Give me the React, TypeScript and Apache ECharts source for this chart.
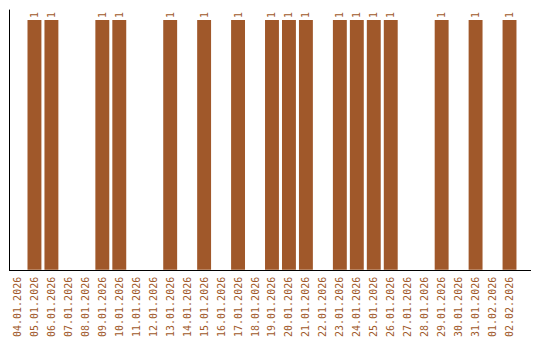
import React, { useEffect, useRef } from "react";
import * as echarts from "echarts";

const categories = [
  "04.01.2026", "05.01.2026", "06.01.2026", "07.01.2026", "08.01.2026",
  "09.01.2026", "10.01.2026", "11.01.2026", "12.01.2026", "13.01.2026",
  "14.01.2026", "15.01.2026", "16.01.2026", "17.01.2026", "18.01.2026",
  "19.01.2026", "20.01.2026", "21.01.2026", "22.01.2026", "23.01.2026",
  "24.01.2026", "25.01.2026", "26.01.2026", "27.01.2026", "28.01.2026",
  "29.01.2026", "30.01.2026", "31.01.2026", "01.02.2026", "02.02.2026",
];
const counts = [
  0, 1, 1, 0, 0,
  1, 1, 0, 0, 1,
  0, 1, 0, 1, 0,
  1, 1, 1, 0, 1,
  1, 1, 1, 0, 0,
  1, 0, 1, 0, 1,
];

const COLOR = "#a0582a";

export default function App() {
  const ref = useRef<HTMLDivElement>(null);
  useEffect(() => {
    if (!ref.current) return;
    const chart = echarts.init(ref.current, null, { renderer: "svg" });
    chart.setOption({
      animation: false,
      grid: { left: 9, right: 22, top: 10, bottom: 70, containLabel: false },
      xAxis: {
        type: "category",
        data: categories,
        axisLine: { show: false },
        axisTick: { show: false },
        axisLabel: {
          interval: 0,
          rotate: 90,
          color: COLOR,
          fontFamily: "DejaVu Sans Mono",
          fontSize: 10,
          margin: 7,
        },
      },
      yAxis: {
        type: "value",
        min: 0,
        max: 1.04,
        axisLine: { show: true, lineStyle: { color: "#000", width: 1 } },
        axisTick: { show: false },
        axisLabel: { show: false },
        splitLine: { show: false },
      },
      graphic: [
        {
          type: "line",
          shape: { x1: 9, y1: 270.5, x2: 531, y2: 270.5 },
          style: { stroke: "#000", lineWidth: 1 },
          z: 10,
        },
      ],
      series: [
        {
          type: "bar",
          data: counts,
          barCategoryGap: "18%",
          itemStyle: { color: COLOR },
          label: {
            show: true,
            position: "top",
            rotate: 90,
            align: "left",
            verticalAlign: "middle",
            distance: 2,
            color: COLOR,
            fontFamily: "DejaVu Sans Mono",
            fontSize: 10,
            formatter: (p: any) => (p.value ? String(p.value) : ""),
          },
        },
      ],
    });
    return () => chart.dispose();
  }, []);
  return (
    <div
      ref={ref}
      style={{ position: "absolute", left: 0, top: 0, width: 540, height: 340 }}
    />
  );
}
